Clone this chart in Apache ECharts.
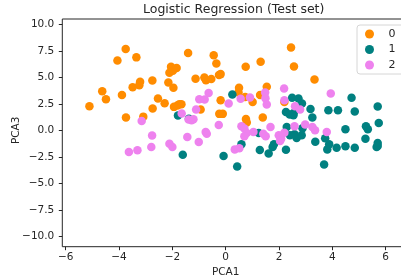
<!DOCTYPE html>
<html>
<head>
<meta charset="utf-8">
<script src="https://cdn.jsdelivr.net/npm/echarts@6/dist/echarts.min.js"></script>
<style>
  html, body { margin: 0; padding: 0; background: #fff; }
  #chart { width: 401px; height: 279px; }
</style>
</head>
<body>
<div id="chart"></div>
<script>
  // class labels and colours
  var classNames = ['0', '1', '2'];
  var classColors = ['#ff8c00', '#008080', '#ee82ee'];

  // test points per class, [PCA1, PCA3]
  var class0 = [
    [-5.11, 2.27], [-4.63, 3.69], [-4.49, 2.93], [-4.06, 6.59], [-3.75, 7.66],
    [-3.89, 3.34], [-3.74, 1.20], [-3.35, 6.88], [-3.49, 4.07], [-3.24, 4.26],
    [-3.21, 4.57], [-3.09, 1.29], [-2.75, 4.70], [-2.74, 2.05], [-2.54, 3.00],
    [-2.29, 2.55], [-2.15, 4.51], [-2.05, 5.99], [-2.11, 5.43], [-1.98, 5.61],
    [-1.84, 5.87], [-1.96, 4.01], [-1.94, 2.21], [-1.81, 2.33], [-1.74, 2.46],
    [-1.66, 2.46], [-1.41, 7.29], [-1.13, 4.86], [-0.94, 1.96], [-0.80, 4.98],
    [-0.74, 4.73], [-0.54, 4.83], [-0.45, 7.07], [-0.35, 6.31], [-0.25, 5.21],
    [-0.19, 5.30], [-0.19, 2.84], [-0.24, 1.55], [-0.11, 1.55], [0.50, 4.01],
    [0.48, 3.56], [0.73, 3.15], [0.75, 5.99], [0.76, 1.07], [0.79, 0.73],
    [1.01, 2.68], [1.31, 6.47], [1.29, 3.34], [1.39, 1.20], [1.54, 4.10],
    [2.20, 2.68], [2.45, 7.82], [2.56, 6.03], [3.33, 4.79]
  ];
  var class1 = [
    [-1.79, 1.39], [-1.61, -2.30], [-1.38, 1.10], [-0.08, -2.43], [0.25, 3.37],
    [0.43, -3.41], [0.59, -1.32], [1.28, -1.86], [1.24, -0.25], [1.61, -2.18],
    [1.81, -1.32], [1.76, -1.58], [2.26, -1.83], [2.29, 0.32], [2.26, 1.73],
    [2.40, 1.48], [2.49, 3.06], [2.54, 1.42], [2.55, 1.64], [2.73, 3.00],
    [2.86, 2.52], [2.41, -0.47], [2.58, -0.38], [2.66, -0.73], [2.85, -0.47],
    [2.88, 0.19], [3.18, 2.02], [3.25, 1.20], [3.36, -1.07], [3.69, -3.22],
    [3.73, -0.76], [3.81, -1.80], [3.85, 1.89], [3.88, -1.32], [4.16, -1.64],
    [4.21, 1.89], [4.49, 0.09], [4.49, -1.51], [4.72, 3.06], [4.84, 1.77],
    [4.84, -1.64], [5.24, -0.79], [5.26, 0.38], [5.33, 0.09], [5.70, 2.24],
    [5.74, 0.69], [5.66, -1.58], [5.70, -1.20], [5.70, -1.48]
  ];
  var class2 = [
    [-3.63, -2.05], [-3.31, -1.89], [-3.15, 0.88], [-2.76, -0.50], [-2.79, -1.58],
    [-2.11, -1.26], [-2.00, -1.58], [-1.65, 1.58], [-1.39, 1.01], [-1.28, 0.95],
    [-1.21, 1.04], [-1.44, -0.63], [-1.01, -1.10], [-0.99, 2.93], [-0.79, 2.90],
    [-0.64, 3.53], [-1.11, 1.96], [-0.75, -0.16], [-0.71, -0.32], [-0.26, 0.50],
    [0.11, 2.52], [0.34, -1.80], [0.51, -1.70], [0.56, 2.97], [0.59, 0.38],
    [0.70, 0.16], [0.79, -0.25], [0.70, -0.57], [0.91, 3.09], [1.04, -0.16],
    [1.41, -0.32], [1.50, -0.57], [1.49, 3.03], [1.54, 2.43], [1.48, 3.56],
    [1.68, 0.32], [1.99, -0.47], [2.08, -0.79], [2.04, -1.01], [2.19, 3.94],
    [2.20, 2.84], [2.20, -0.22], [2.60, 2.27], [2.79, 1.96], [2.58, 0.38],
    [2.98, 0.54], [3.25, 0.32], [3.35, 0.00], [3.79, -0.16], [3.94, 3.47]
  ];

  // axis ticks
  var xTicks = [-6, -4, -2, 0, 2, 4, 6];
  var yTicks = [-10, -7.5, -5, -2.5, 0, 2.5, 5, 7.5, 10];

  var font = '"DejaVu Sans", sans-serif';
  var ink = '#262626';

  function minus(s) {
    return String(s).replace('-', '\u2212');
  }

  var myChart = echarts.init(document.getElementById('chart'), null, { renderer: 'canvas' });

  var classData = [class0, class1, class2];
  var series = classData.map(function (pts, i) {
    return {
      name: classNames[i],
      type: 'scatter',
      data: pts,
      symbol: 'circle',
      symbolSize: 8.5,
      itemStyle: { color: classColors[i], opacity: 1 },
      emphasis: { disabled: true },
      clip: false
    };
  });

  var option = {
    animation: false,
    backgroundColor: '#fff',
    textStyle: { fontFamily: font },
    title: {
      text: 'Logistic Regression (Test set)',
      left: 233.7,
      top: 3,
      padding: 0,
      textAlign: 'center',
      textStyle: { fontFamily: font, fontSize: 12.5, fontWeight: 'normal', color: ink }
    },
    legend: {
      orient: 'vertical',
      left: 357,
      top: 25,
      padding: [3, 30, 3, 8],
      itemGap: 3.5,
      itemWidth: 12,
      itemHeight: 9,
      icon: 'circle',
      backgroundColor: 'rgba(255,255,255,0.8)',
      borderColor: '#d6d6d6',
      borderWidth: 1,
      borderRadius: 3,
      selectedMode: false,
      data: classNames,
      textStyle: { fontFamily: font, fontSize: 11, color: ink, lineHeight: 12, padding: [0, 0, 0, 8] }
    },
    grid: {
      left: 65.7,
      right: 15.3,
      top: 24.3,
      bottom: 42.7,
      containLabel: false,
      outerBoundsMode: 'none'
    },
    xAxis: {
      type: 'value',
      min: xTicks[0],
      max: xTicks[xTicks.length - 1],
      interval: 2,
      offset: 10.4,
      name: 'PCA1',
      nameLocation: 'middle',
      nameGap: 20,
      nameMoveOverlap: false,
      nameTextStyle: { fontFamily: font, fontSize: 10.5, color: ink },
      axisLine: { show: false, onZero: false },
      axisTick: { show: true, length: 3.5, lineStyle: { color: ink, width: 1 } },
      axisLabel: {
        margin: 5,
        fontFamily: font, fontSize: 10.5, color: ink,
        formatter: function (v) { return minus(v); }
      },
      splitLine: { show: false }
    },
    yAxis: {
      type: 'value',
      min: yTicks[0],
      max: yTicks[yTicks.length - 1],
      interval: 2.5,
      offset: 3.4,
      name: 'PCA3',
      nameLocation: 'middle',
      nameGap: 41,
      nameRotate: 90,
      nameMoveOverlap: false,
      nameTextStyle: { fontFamily: font, fontSize: 10.5, color: ink },
      axisLine: { show: false, onZero: false },
      axisTick: { show: true, length: 3.5, lineStyle: { color: ink, width: 1 } },
      axisLabel: {
        margin: 8,
        fontFamily: font, fontSize: 10.5, color: ink,
        formatter: function (v) { return minus(v.toFixed(1)); }
      },
      splitLine: { show: false }
    },
    graphic: [{
      // axes frame (spines), extends past the right edge like the reference
      type: 'rect',
      silent: true,
      z: 10,
      shape: { x: 62.3, y: 19, width: 343, height: 227.7 },
      style: { fill: null, stroke: ink, lineWidth: 1 }
    }],
    series: series
  };

  myChart.setOption(option);
</script>
</body>
</html>
